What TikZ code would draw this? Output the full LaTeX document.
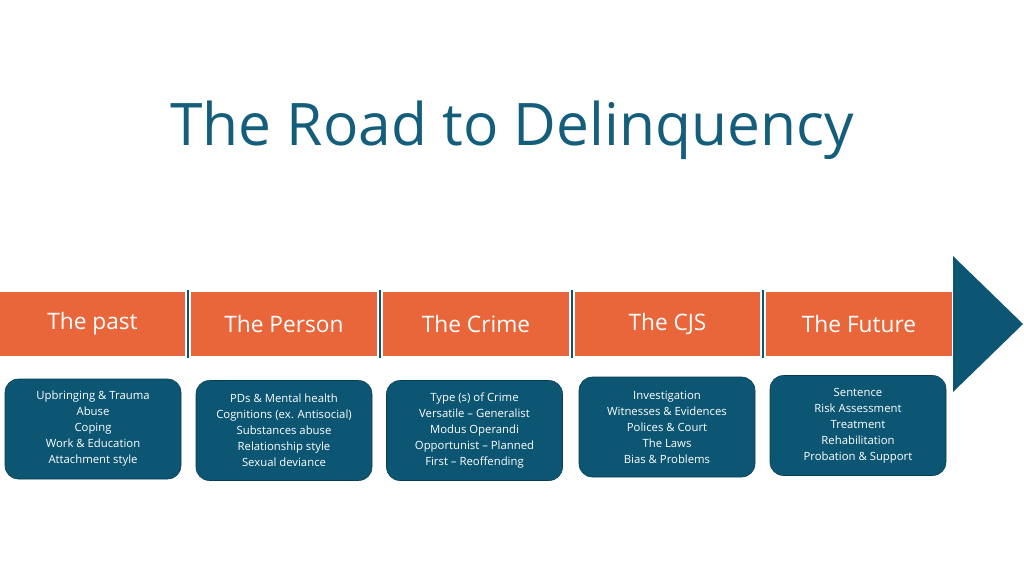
\documentclass[tikz,border=0pt]{standalone}
\usepackage{fontspec}
\setmainfont{Open Sans}
\usetikzlibrary{positioning}
\definecolor{roadorange}{HTML}{E9663A}
\definecolor{roadteal}{HTML}{0C5673}
\definecolor{titleteal}{HTML}{145E7C}
\tikzset{
  stage/.style={fill=roadorange, minimum width=139pt, minimum height=48pt, inner sep=0pt,
    text=white, font=\fontsize{17}{20}\selectfont},
  detail/.style={fill=roadteal, draw=roadteal!70!black, rounded corners=10pt, minimum width=132pt,
    minimum height=75pt, text=white, align=center, font=\fontsize{8.5}{12}\selectfont},
  divider/.style={roadteal, line width=2pt}
}
\begin{document}
\begin{tikzpicture}[x=0.75pt,y=-0.75pt]
    \useasboundingbox (0,0) rectangle (1024,576);
    % Title
    \node[titleteal, font=\fontsize{44}{50}\selectfont] (title) at (512,130) {The Road to Delinquency};

    % Arrow head
    \fill[roadteal] (953,256) -- (1023,324) -- (953,392) -- cycle;

    % Stages
    \node[stage, minimum width=139pt] (past) at (92.5,324) {The past};
    \node[stage] (person) at (284,324) {The Person};
    \node[stage] (crime) at (476,324) {The Crime};
    \node[stage] (cjs) at (667.5,324) {The CJS};
    \node[stage] (future) at (859,324) {The Future};

    % Dividers
    \foreach \x in {188,380,572,763}
        \draw[divider] (\x,290) -- (\x,358);

    % Details
    \node[detail] (pastd) at (93,429) {Upbringing \& Trauma\\Abuse\\Coping\\Work \& Education\\Attachment style};
    \node[detail] (persond) at (284,430.5) {PDs \& Mental health\\Cognitions (ex. Antisocial)\\Substances abuse\\Relationship style\\Sexual deviance};
    \node[detail] (crimed) at (474.5,430.5) {Type (s) of Crime\\Versatile – Generalist\\Modus Operandi\\Opportunist – Planned\\First – Reoffending};
    \node[detail] (cjsd) at (667,427) {Investigation\\Witnesses \& Evidences\\Polices \& Court\\The Laws\\Bias \& Problems};
    \node[detail] (futured) at (858,425.5) {Sentence\\Risk Assessment\\Treatment\\Rehabilitation\\Probation \& Support};
\end{tikzpicture}
\end{document}
